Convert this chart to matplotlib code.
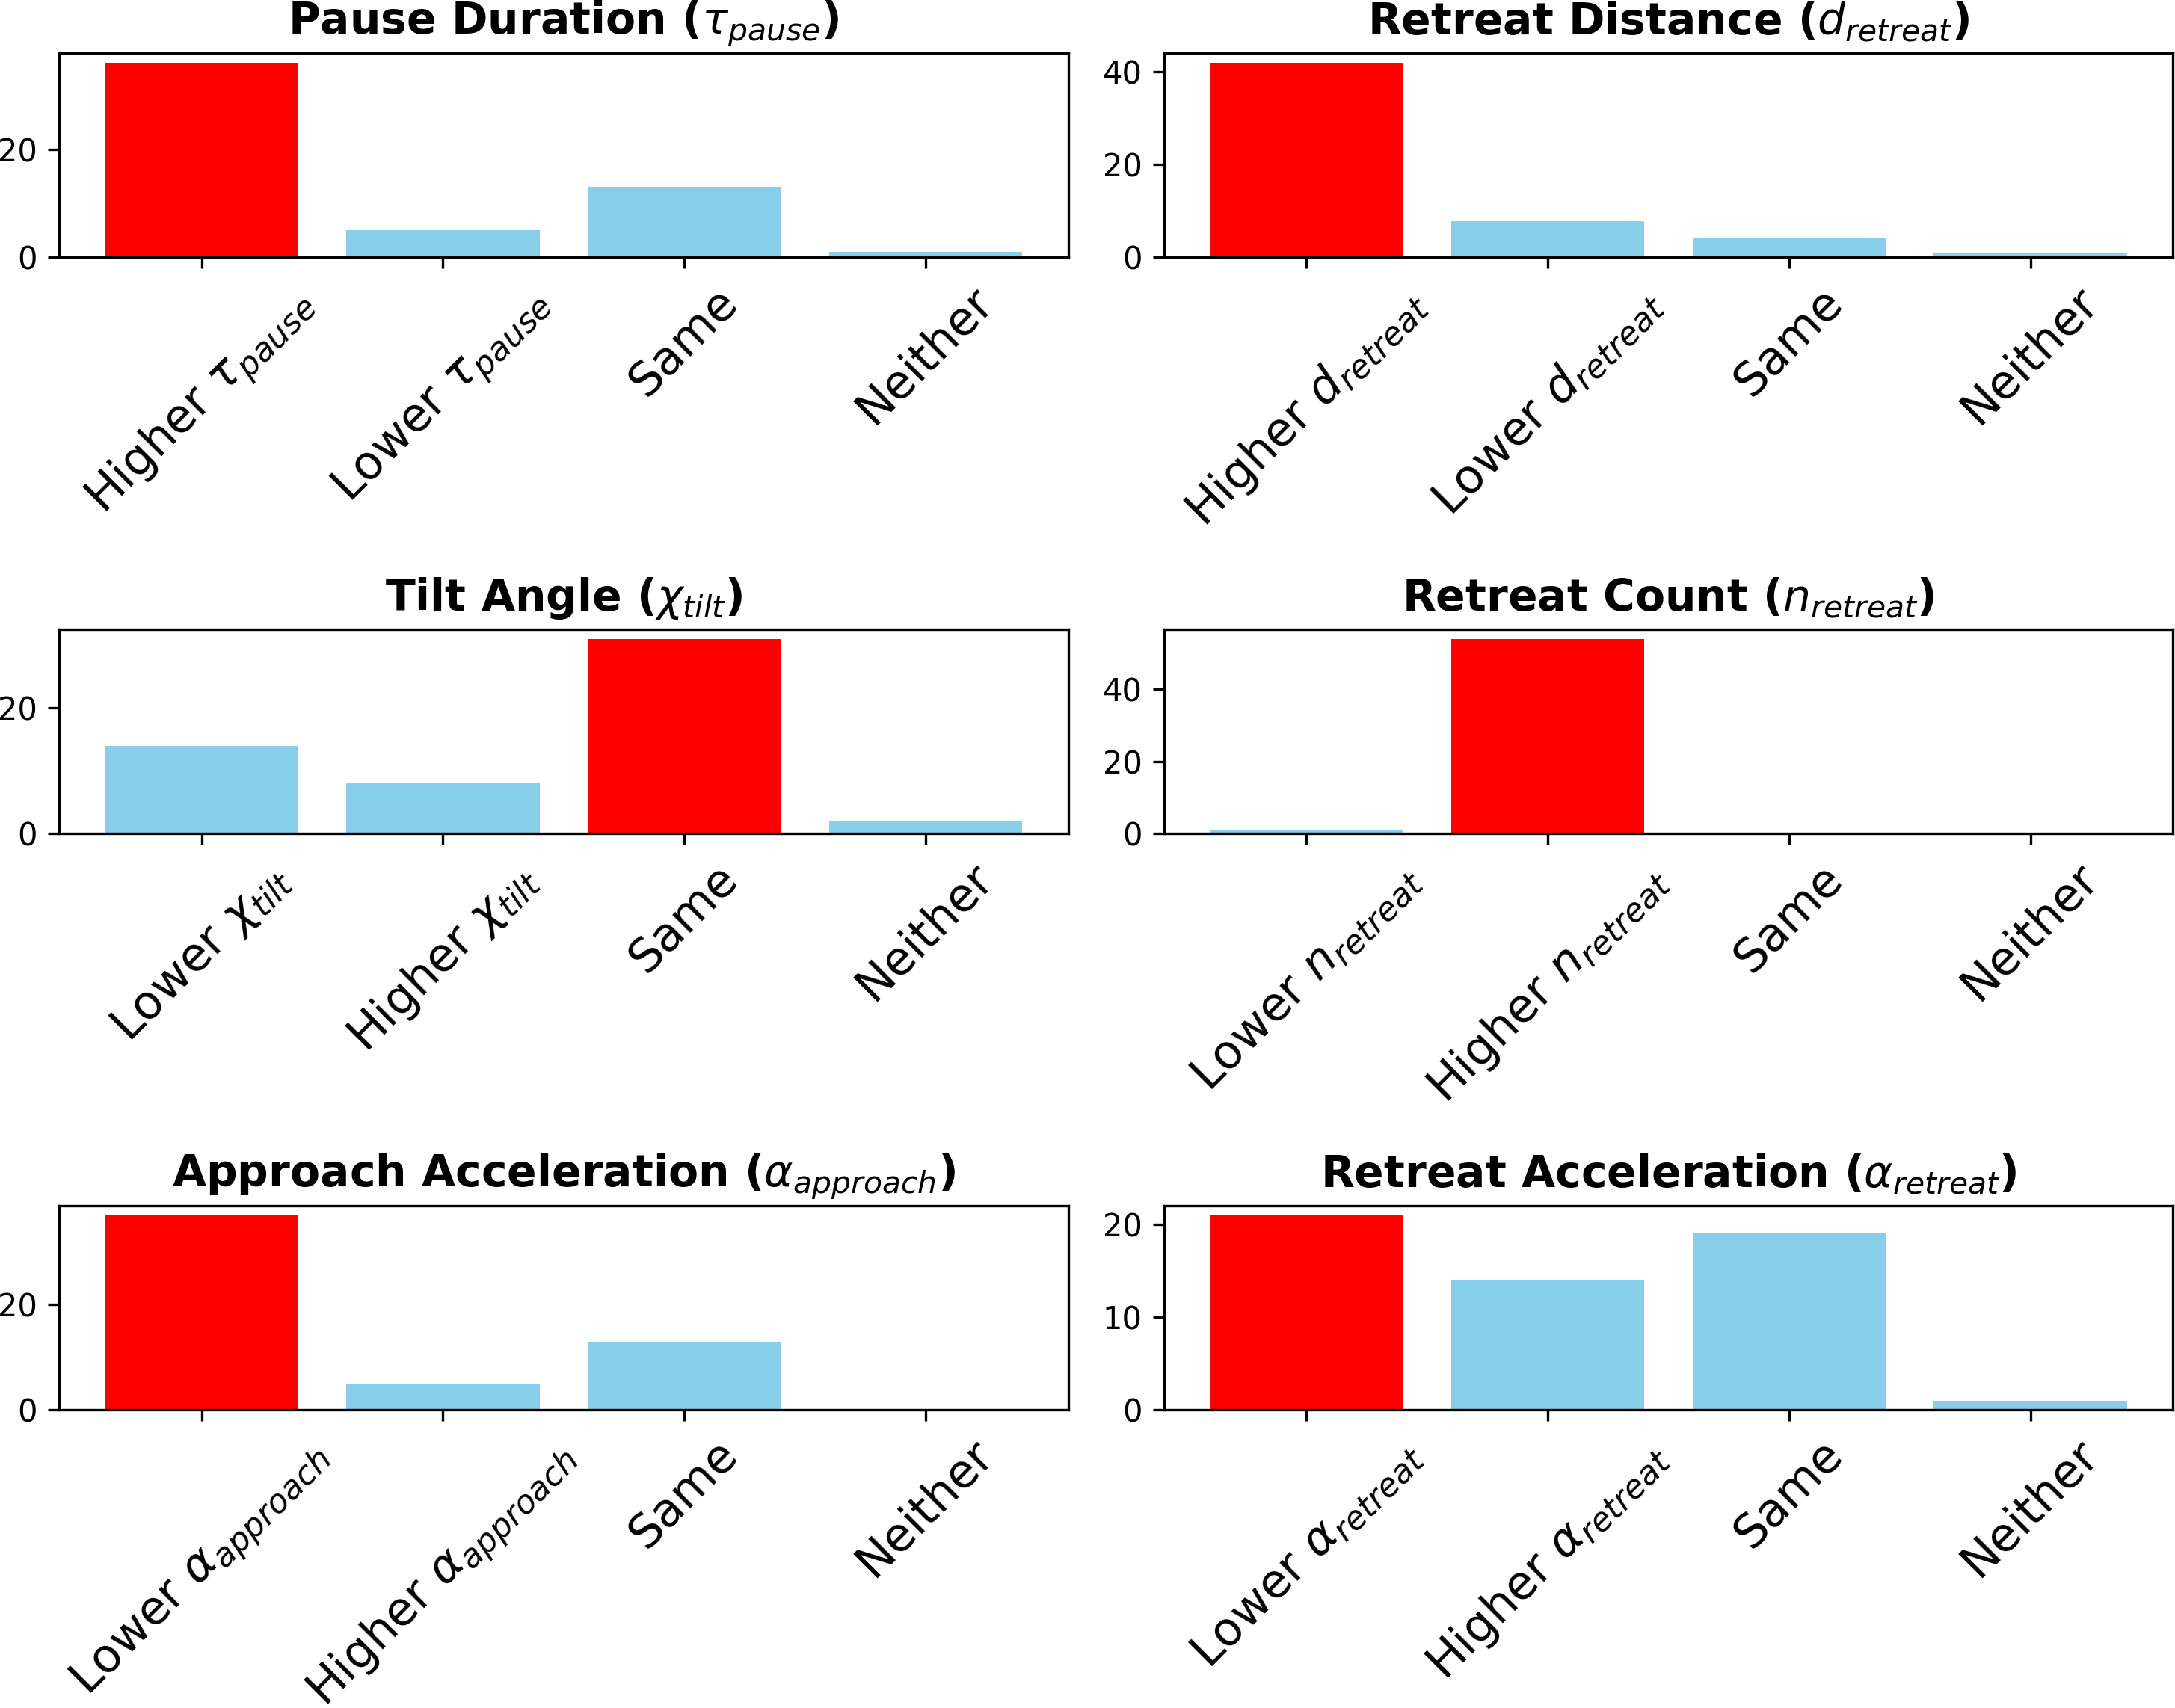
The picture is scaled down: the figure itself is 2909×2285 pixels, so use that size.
import matplotlib.pyplot as plt

# Titles of the six panels
titles = [
    r"Pause Duration ($\tau_{pause}$)",
    r"Retreat Distance ($d_{retreat}$)",
    r"Tilt Angle ($\chi_{tilt}$)",
    r"Retreat Count ($n_{retreat}$)",
    r"Approach Acceleration ($\alpha_{approach}$)",
    r"Retreat Acceleration ($\alpha_{retreat}$)",
]

# Category labels for each panel
labels_pause = [r"Higher $\tau_{pause}$", r"Lower $\tau_{pause}$", "Same", "Neither"]
labels_distance = [r"Higher $d_{retreat}$", r"Lower $d_{retreat}$", "Same", "Neither"]
labels_tilt = [r"Lower $\chi_{tilt}$", r"Higher $\chi_{tilt}$", "Same", "Neither"]
labels_count = [r"Lower $n_{retreat}$", r"Higher $n_{retreat}$", "Same", "Neither"]
labels_approach = [r"Lower $\alpha_{approach}$", r"Higher $\alpha_{approach}$", "Same", "Neither"]
labels_retreat_acc = [r"Lower $\alpha_{retreat}$", r"Higher $\alpha_{retreat}$", "Same", "Neither"]

# Counts
counts_pause = [36, 5, 13, 1]
counts_distance = [42, 8, 4, 1]
counts_tilt = [14, 8, 31, 2]
counts_count = [1, 54, 0, 0]
counts_approach = [37, 5, 13, 0]
counts_retreat_acc = [21, 14, 19, 1]

all_labels = [labels_pause, labels_distance, labels_tilt,
              labels_count, labels_approach, labels_retreat_acc]
all_counts = [counts_pause, counts_distance, counts_tilt,
              counts_count, counts_approach, counts_retreat_acc]

fig, axes = plt.subplots(3, 2, figsize=(2909 / 300, 2285 / 300), dpi=300)
fig.subplots_adjust(left=0.0272, right=0.999, top=0.969, bottom=0.1746,
                    wspace=0.095, hspace=1.82)

for ax, title, labels, counts in zip(axes.flat, titles, all_labels, all_counts):
    # la barra más alta va en rojo
    best = counts.index(max(counts))
    colors = ['red' if i == best else 'skyblue' for i in range(len(counts))]
    x = list(range(len(labels)))
    ax.bar(x, counts, color=colors)
    ax.set_xticks(x)
    ax.set_xticklabels(labels, rotation=45, fontsize=15)
    ax.set_title(title, fontsize=14, fontweight='bold')

fig.savefig("out.png", dpi=300)
